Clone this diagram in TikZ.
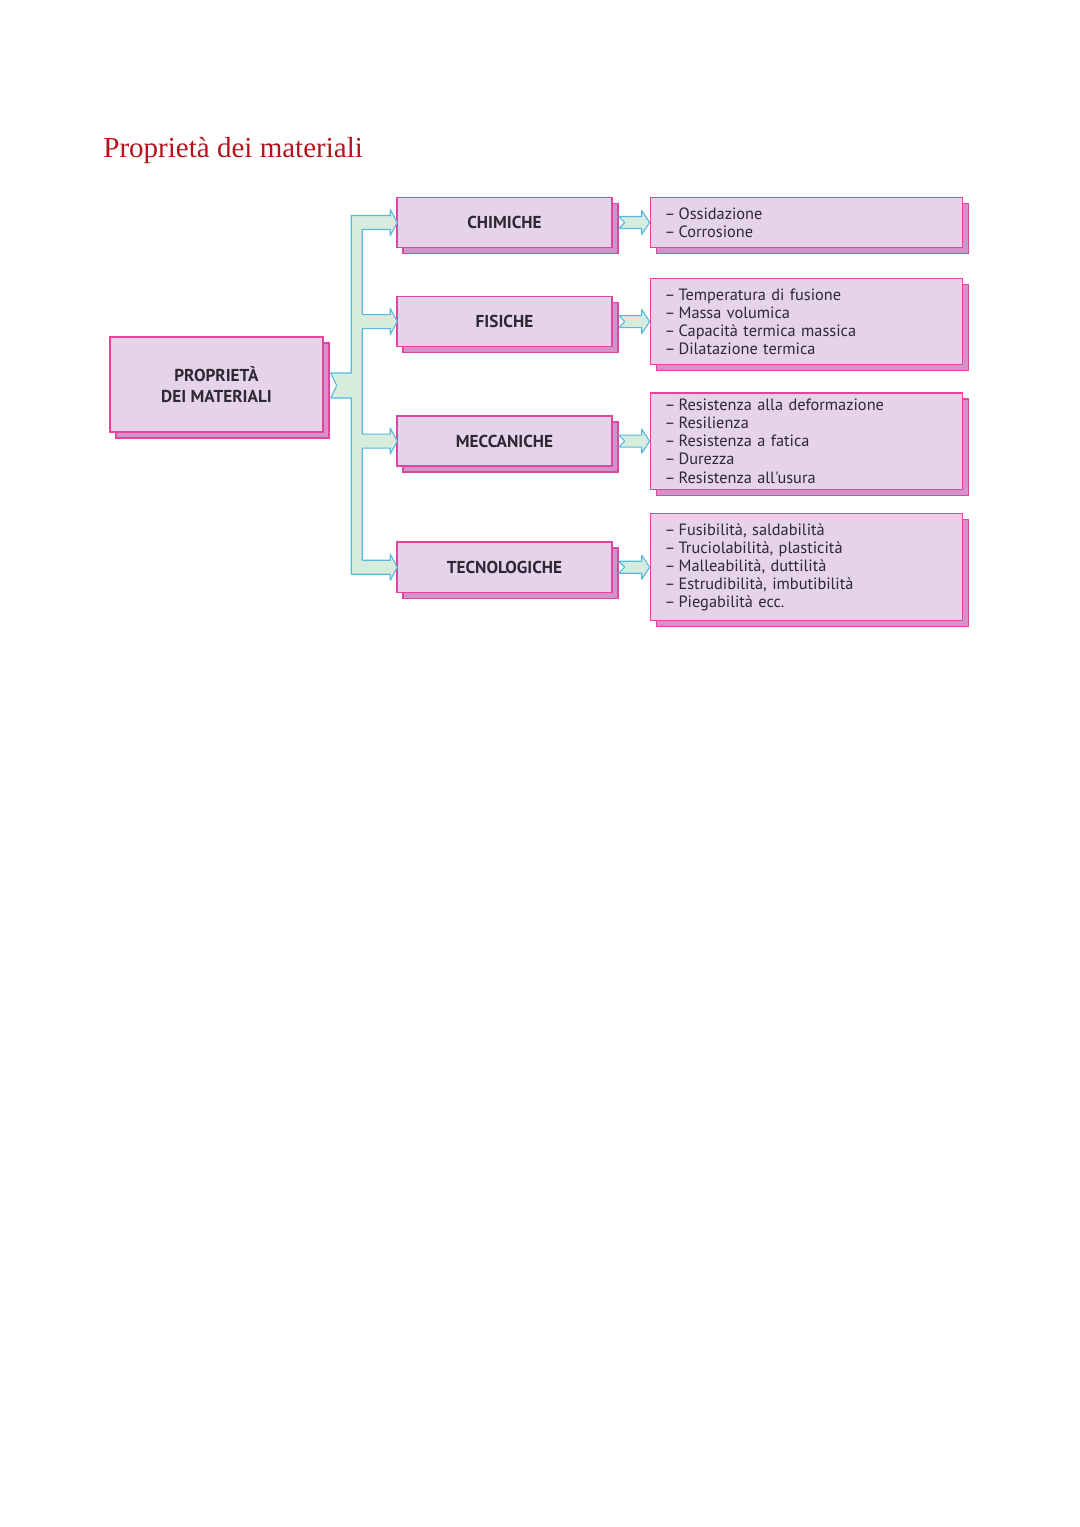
\documentclass[tikz,border=0pt]{standalone}
\usepackage{fontspec}
\setmainfont{Liberation Serif}
\newfontfamily\boxfont{PT Sans}
\usetikzlibrary{positioning, shadows, calc}
\definecolor{boxfill}{RGB}{229,211,234}
\definecolor{boxline}{RGB}{222,70,160}
\definecolor{boxshade}{RGB}{211,146,200}
\definecolor{connfill}{RGB}{214,236,220}
\definecolor{connline}{RGB}{85,185,225}
\definecolor{titlered}{RGB}{180,20,25}
\definecolor{labeltext}{RGB}{45,40,50}
\newcommand{\itemdash}{–\hspace{1.8pt}}
\tikzset{
  propbox/.style={draw=boxline, fill=boxfill, line width=0.8pt, text=labeltext,
    copy shadow={shadow xshift=3.3pt, shadow yshift=-3.3pt, fill=boxshade, draw=boxline}},
  groupbox/.style={propbox, minimum width=118.5pt, minimum height=27.6pt,
    font=\boxfont\bfseries\fontsize{9.5}{12}\selectfont},
  listbox/.style={propbox, text width=156.4pt, inner xsep=7.77pt, align=left,
    font=\boxfont\fontsize{9}{10}\selectfont},
  conn/.style={draw=connline, fill=connfill, line width=0.6pt, line join=round}
}
\begin{document}
\begin{tikzpicture}[x=0.5512pt, y=0.5512pt, node distance=20.4pt]
  \useasboundingbox (0,0) rectangle (1080,-1527);
  \node[anchor=base west, inner sep=0pt, text=titlered, font=\fontsize{16}{19}\selectfont] (title) at (103,-157) {Proprietà dei materiali};
  \node[groupbox, minimum width=117.4pt, minimum height=52.4pt, align=center] (prop) at (216.5,-384.5) {PROPRIETÀ\\DEI MATERIALI};
  \node[groupbox] (chim) at (504.5,-222.5) {CHIMICHE};
  \node[groupbox, below=26.2pt of chim] (fis) {FISICHE};
  \node[groupbox, below=37.5pt of fis] (mecc) {MECCANICHE};
  \node[groupbox, below=41.1pt of mecc] (tecn) {TECNOLOGICHE};
  \node[listbox, minimum height=27.6pt, right=of chim] (ox) {\itemdash Ossidazione\\\itemdash Corrosione};
  \node[listbox, minimum height=47.4pt, right=of fis] (term) {\itemdash Temperatura di fusione\\\itemdash Massa volumica\\\itemdash Capacità termica massica\\\itemdash Dilatazione termica};
  \node[listbox, minimum height=52.4pt, right=of mecc] (mech) {\itemdash Resistenza alla deformazione\\\itemdash Resilienza\\\itemdash Resistenza a fatica\\\itemdash Durezza\\\itemdash Resistenza all'usura};
  \node[listbox, minimum height=59pt, right=of tecn] (tech) {\itemdash Fusibilità, saldabilità\\\itemdash Truciolabilità, plasticità\\\itemdash Malleabilità, duttilità\\\itemdash Estrudibilità, imbutibilità\\\itemdash Piegabilità ecc.};
  \draw[conn] ($(prop.east)+(7,11.5)$) -| ($(chim.west)+(-45,7)$) -- ($(chim.west)+(-6,7)$) -- ++(0,6) -- ($(chim.west)+(1,0)$) -- ($(chim.west)+(-6,-13)$) -- ++(0,6)
    -- ($(chim.west)+(-34,-7)$) |- ($(fis.west)+(-6,7)$) -- ++(0,6) -- ($(fis.west)+(1,0)$) -- ($(fis.west)+(-6,-13)$) -- ++(0,6)
    -- ($(fis.west)+(-34,-7)$) |- ($(mecc.west)+(-6,7)$) -- ++(0,6) -- ($(mecc.west)+(1,0)$) -- ($(mecc.west)+(-6,-13)$) -- ++(0,6)
    -- ($(mecc.west)+(-34,-7)$) |- ($(tecn.west)+(-6,7)$) -- ++(0,6) -- ($(tecn.west)+(1,0)$) -- ($(tecn.west)+(-6,-13)$) -- ++(0,6)
    -- ($(tecn.west)+(-45,-7)$) |- ($(prop.east)+(7,-13.5)$) -- ($(prop.east)+(13,-1)$) -- cycle;
  \foreach \n/\m in {chim/ox, fis/term, mecc/mech, tecn/tech}
    \draw[conn] ($(\n.east)+(6,6)$) -- ($(\n.east -| \m.west)+(-8,6)$) -- ++(0,6) -- (\n.east -| \m.west) -- ($(\n.east -| \m.west)+(-8,-12)$) -- ++(0,6) -- ($(\n.east)+(6,-6)$) -- ($(\n.east)+(12,0)$) -- cycle;
\end{tikzpicture}
\end{document}
